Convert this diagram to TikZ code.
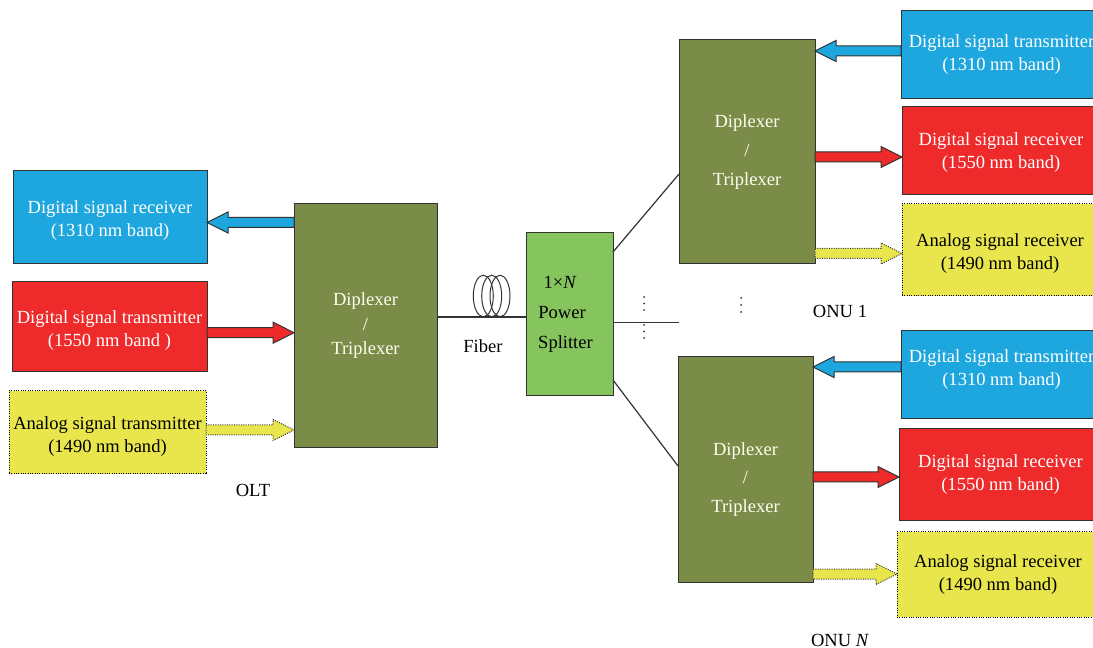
\documentclass[tikz,border=0pt]{standalone}
\usepackage{fontspec}
\setmainfont{Liberation Serif}
\usetikzlibrary{calc}
\definecolor{cblue}{HTML}{1EA7DE}
\definecolor{cred}{HTML}{EE2A2A}
\definecolor{cyel}{HTML}{E8E64C}
\definecolor{colive}{HTML}{7A8C48}
\definecolor{cgreen}{HTML}{86C55E}
\definecolor{cline}{HTML}{333333}
\newcommand\boxat[6]{\node[#1, anchor=north west, minimum width={(#4-#2)*0.75pt}, minimum height={(#5-#3)*0.75pt}] (#6) at (#2,#3)}
\newcommand\blockarr[4]{%
  \draw[#1] let \p1=(#2 |- 0,#4), \p2=(#3 |- 0,#4), \p3=($(\p2)!15.75pt!(\p1)$) in
    (\x1,\y1+3.75pt) -- (\x3,\y1+3.75pt) -- (\x3,\y1+7.9pt) -- (\x2,\y2) --
    (\x3,\y1-7.9pt) -- (\x3,\y1-3.75pt) -- (\x1,\y1-3.75pt) -- cycle;}
\newcommand\tdn[1]{\rule{0pt}{#1}}
\newcommand\tup[1]{\rule[-#1]{0pt}{0pt}}
\tikzset{
  box/.style={draw=cline, line width=0.75pt, inner sep=0pt, outer sep=0pt, align=center,
    font=\fontsize{13.9}{17.3}\selectfont},
  bluebox/.style={box, fill=cblue, text=white},
  redbox/.style={box, fill=cred, text=white},
  yelbox/.style={box, fill=cyel, text=black, draw=black, densely dotted},
  dipbox/.style={box, fill=colive, text=white!94!yellow},
  splitbox/.style={box, fill=cgreen, text=black},
  lbl/.style={font=\fontsize{13.9}{17.3}\selectfont, inner sep=0pt},
  conn/.style={draw=cline, line width=0.9pt},
  bluearr/.style={fill=cblue, draw=cline, line width=0.75pt, line join=miter},
  redarr/.style={fill=cred, draw=cline, line width=0.75pt, line join=miter},
  yelarr/.style={fill=cyel, draw=black!80, line width=0.75pt, densely dotted},
}
\begin{document}
\begin{tikzpicture}[x=0.75pt,y=-0.75pt]
\useasboundingbox (0,0) rectangle (1093,648);
\clip (0,0) rectangle (1093,648);

% OLT side
\boxat{bluebox}{13}{171}{207}{264}{lrx} {\tdn{14.15pt}Digital signal receiver\\(1310 nm band)};
\boxat{redbox}{12}{282}{207}{372}{ltx} {\tdn{15.65pt}Digital signal transmitter\\(1550 nm band )};
\boxat{yelbox}{9}{391}{206}{474}{lax} {\tdn{15.65pt}Analog signal transmitter\\(1490 nm band)};
\boxat{dipbox, font=\fontsize{13.9}{18.4}\selectfont}{294}{204}{437}{448}{oltd} {Diplexer\\/\\Triplexer};
\node[lbl] (olt) at (253,490) {OLT};

% splitter
\boxat{splitbox, font=\fontsize{13.9}{22.5}\selectfont}{526}{233}{613}{396}{split} {1\texttimes\textit{N}\kern14.25pt\\Power\kern11.25pt\\Splitter\kern6pt};

% ONUs
\boxat{dipbox, font=\fontsize{13.9}{21.5}\selectfont}{679}{40}{815}{264}{onu1d} {Diplexer\\/\\Triplexer};
\boxat{dipbox, font=\fontsize{13.9}{21.5}\selectfont}{678}{357}{813}{582}{onuNd} {\tdn{24.65pt}Diplexer\\/\\Triplexer};

\boxat{bluebox}{901}{11}{1102}{99}{r1t} {Digital signal transmitter\\(1310 nm band)};
\boxat{redbox}{902}{107}{1100}{195}{r1r} {\tdn{12.65pt}Digital signal receiver\\(1550 nm band)};
\boxat{yelbox}{902}{204}{1098}{296}{r1a} {\tdn{15.65pt}Analog signal receiver\\(1490 nm band)};
\boxat{bluebox}{901}{331}{1102}{419}{rNt} {Digital signal transmitter\\(1310 nm band)\tup{10.5pt}};
\boxat{redbox}{899}{429}{1102}{521}{rNr} {Digital signal receiver\\(1550 nm band)};
\boxat{yelbox}{897}{532}{1099}{617}{rNa} {Analog signal receiver\\(1490 nm band)};

\node[lbl] (onu1) at (840,311) {ONU 1};
\node[lbl] (onuN) at (840,640) {ONU \textit{N}};

% block arrows
\blockarr{bluearr}{oltd.west}{lrx.east}{222.5}
\blockarr{redarr}{ltx.east}{oltd.west}{332.7}
\blockarr{yelarr}{lax.east}{oltd.west}{430}
\blockarr{bluearr}{r1t.west}{onu1d.east}{51}
\blockarr{redarr}{onu1d.east}{r1r.west}{157}
\blockarr{yelarr}{onu1d.east}{r1a.west}{253.5}
\blockarr{bluearr}{rNt.west}{onuNd.east}{367}
\blockarr{redarr}{onuNd.east}{rNr.west}{477}
\blockarr{yelarr}{onuNd.east}{rNa.west}{574}

% fiber
\draw[conn] (oltd.east |- 0,317) -- (split.west |- 0,317);
\foreach \cx in {483.3,491.7,500}
  \draw[cline, line width=0.75pt] (\cx,296) ellipse [x radius=7.5pt, y radius=15.6pt];
\node[lbl] (fiber) at (483,346) {Fiber};

% splitter outputs
\coordinate (midend) at (679,322.5);
\draw[conn] (split.east |- 0,252) -- (onu1d.west |- 0,174);
\draw[conn] (split.east |- 0,322.5) -- (midend);
\draw[conn] (split.east |- 0,380) -- (onuNd.west |- 0,466);

% dots
\foreach \dx/\dy in {644/297,644/303.5,644/310,644/325,644/331.5,644/338,741/298,741/305,741/312}
  \fill[cline] (\dx,\dy) circle [radius=0.75pt];
\end{tikzpicture}
\end{document}
